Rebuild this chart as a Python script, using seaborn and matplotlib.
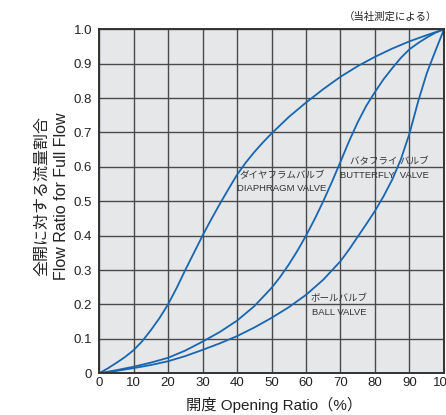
import numpy as np
import pandas as pd
import matplotlib
matplotlib.use("Agg")
import matplotlib.pyplot as plt
import seaborn as sns

# values (opening % -> flow ratio)
diaphragm_x = [0, 2.5, 5, 7.5, 10, 12.5, 15, 17.5, 20, 22.5, 25, 27.5, 30, 32.5, 35, 37.5, 40,
               42.5, 45, 47.5, 50, 55, 60, 65, 70, 75, 80, 85, 90, 95, 100]
diaphragm_y = [0, 0.014, 0.03, 0.047, 0.067, 0.093, 0.125, 0.16, 0.2, 0.248, 0.3, 0.35, 0.4, 0.447,
               0.492, 0.535, 0.577, 0.612, 0.643, 0.671, 0.697, 0.745, 0.787, 0.826, 0.862, 0.893,
               0.92, 0.944, 0.965, 0.983, 1.0]

butterfly_x = [0, 5, 10, 15, 20, 25, 30, 35, 40, 45, 50, 52.5, 55, 57.5, 60, 62.5, 65, 67.5, 70,
               72.5, 75, 77.5, 80, 82.5, 85, 87.5, 90, 92.5, 95, 97.5, 100]
butterfly_y = [0, 0.009, 0.019, 0.031, 0.045, 0.066, 0.092, 0.12, 0.153, 0.195, 0.248, 0.28, 0.316,
               0.356, 0.4, 0.448, 0.5, 0.556, 0.615, 0.675, 0.73, 0.778, 0.818, 0.855, 0.887, 0.917,
               0.942, 0.96, 0.976, 0.99, 1.0]

ball_x = [0, 5, 10, 15, 20, 25, 30, 35, 40, 45, 50, 55, 60, 65, 70, 72.5, 75, 77.5, 80, 82.5, 85,
          87.5, 90, 92.5, 95, 97.5, 100]
ball_y = [0, 0.007, 0.015, 0.024, 0.035, 0.05, 0.068, 0.087, 0.108, 0.133, 0.161, 0.192, 0.228,
          0.272, 0.326, 0.36, 0.397, 0.434, 0.472, 0.515, 0.563, 0.622, 0.697, 0.79, 0.872, 0.937, 1.0]

x_ticks = list(range(0, 101, 10))
y_ticks = [0, 0.1, 0.2, 0.3, 0.4, 0.5, 0.6, 0.7, 0.8, 0.9, 1.0]
y_tick_labels = ["0", "0.1", "0.2", "0.3", "0.4", "0.5", "0.6", "0.7", "0.8", "0.9", "1.0"]

labels = {
    "diaphragm": ("ダイヤフラムバルブ", "DIAPHRAGM VALVE"),
    "butterfly": ("バタフライ バルブ", "BUTTERFLY  VALVE"),
    "ball": ("ボールバルブ", "BALL VALVE"),
}

sns.set_style("white")
plt.rcParams["font.family"] = ["Liberation Sans", "Noto Sans CJK JP"]

line_color = "#1766b2"
grid_color = "#4a4a4a"
text_color = "#333333"

fig = plt.figure(figsize=(4.46, 4.15), dpi=100)
ax = fig.add_axes([0.222, 0.1005, 0.7735, 0.8289])
ax.set_facecolor("#e6e7e9")

for xs, ys in [(diaphragm_x, diaphragm_y), (butterfly_x, butterfly_y), (ball_x, ball_y)]:
    df = pd.DataFrame({"x": xs, "y": ys})
    sns.lineplot(data=df, x="x", y="y", ax=ax, color=line_color, linewidth=1.3)

ax.set_xlim(0, 100)
ax.set_ylim(0, 1.0)
ax.set_xticks(x_ticks)
ax.set_yticks(y_ticks)
ax.set_yticklabels(y_tick_labels)
ax.tick_params(axis="both", length=0, labelsize=9.5, colors="#222222")
ax.tick_params(axis="y", pad=5)
ax.tick_params(axis="x", pad=3)
ax.grid(True, color=grid_color, linewidth=1.0)
ax.set_axisbelow(True)
for sp in ax.spines.values():
    sp.set_color("#333333")
    sp.set_linewidth(1.4)
ax.set_xlabel("")
ax.set_ylabel("")

# curve labels
fs = 6.8
ax.text(53.0, 0.576, labels["diaphragm"][0], ha="center", va="center", fontsize=fs, color=text_color)
ax.text(53.0, 0.538, labels["diaphragm"][1], ha="center", va="center", fontsize=fs, color=text_color)
ax.text(95.6, 0.615, labels["butterfly"][0], ha="right", va="center", fontsize=fs, color=text_color)
ax.text(95.6, 0.574, labels["butterfly"][1], ha="right", va="center", fontsize=fs, color=text_color)
ax.text(69.6, 0.218, labels["ball"][0], ha="center", va="center", fontsize=fs, color=text_color)
ax.text(69.6, 0.177, labels["ball"][1], ha="center", va="center", fontsize=fs, color=text_color)

# axis titles and note
fig.text(274 / 446, 1 - 405 / 415, "開度 Opening Ratio（%）", ha="center", va="center", fontsize=11, color="#222222")
fig.text(42 / 446, 1 - 196 / 415, "全開に対する流量割合", rotation=90, ha="center", va="center", fontsize=11.5, color="#222222")
fig.text(61 / 446, 1 - 196 / 415, "Flow Ratio for Full Flow", rotation=90, ha="center", va="center", fontsize=11.5, color="#222222")
fig.text(437 / 446, 1 - 17 / 415, "（当社測定による）", ha="right", va="center", fontsize=7.5, color="#222222")

fig.savefig("out.png", dpi=100)
